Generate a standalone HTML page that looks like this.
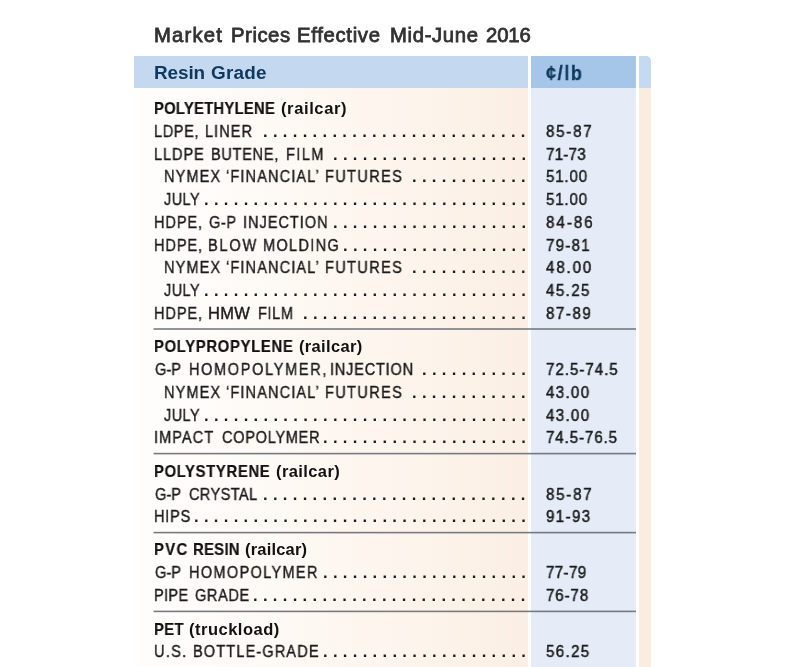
<!DOCTYPE html>
<html lang="en">
<head>
<meta charset="utf-8">
<title>Market Prices Effective Mid-June 2016</title>
<style>
html,body{margin:0;padding:0;background:#fff;}
body{width:800px;height:667px;overflow:hidden;position:relative;font-family:"Liberation Sans",Arial,sans-serif;}
#wrap{position:absolute;left:0;top:0;width:800px;height:667px;overflow:hidden;background:#fff;}
.bg{position:absolute;}
#h-left{left:134px;top:56px;width:394px;height:31.7px;background:#c4d9f0;}
#h-price{left:531px;top:56px;width:104.5px;height:31.7px;background:#a6c6e9;}
#h-strip{left:638.5px;top:56px;width:12.6px;height:31.7px;background:#c5daf0;border-top-right-radius:5px;}
#b-left{left:134px;top:88px;width:394px;height:579px;background:linear-gradient(to right,#fffefd 0%,#fefaf6 30%,#fdf5ed 66%,#fbefe4 100%);}
#b-price{left:531px;top:88px;width:104.5px;height:579px;background:#e5ecf8;}
#b-strip{left:638.5px;top:88px;width:12.6px;height:579px;background:#fbece1;}
.seps{position:absolute;left:0;top:0;}
.r{position:absolute;left:0;width:800px;height:20px;margin:0;}
.t{position:absolute;top:0;white-space:pre;line-height:20px;height:20px;font-size:16.5px;color:#1b1b1b;will-change:transform;transform-origin:0 0;}
.lb{transform:scaleX(0.88);-webkit-text-stroke:0.4px #1b1b1b;}
.pr{transform:scaleX(0.92);-webkit-text-stroke:0.5px #1b1b1b;}
.gh .t{font-weight:700;color:#111;}
.ghc{transform:scaleX(0.9);-webkit-text-stroke:0.2px #111;}
.dots{letter-spacing:5.333px;font-weight:700;}
#title{top:22px;height:26px;font-weight:400;font-size:20.3px;}
#title .t{font-size:20.3px;line-height:26px;height:26px;color:#323232;-webkit-text-stroke:0.8px #323232;}
#thead{top:61px;height:24px;}
#thead .t{font-size:18.9px;line-height:24px;height:24px;font-weight:700;color:#10385f;}
#thead .c{font-size:19.4px;transform:scaleX(0.93);-webkit-text-stroke:0.3px #10385f;}
</style>
</head>
<body>
<div id="wrap">
<div class="bg" id="h-left"></div><div class="bg" id="h-price"></div><div class="bg" id="h-strip"></div>
<div class="bg" id="b-left"></div><div class="bg" id="b-price"></div><div class="bg" id="b-strip"></div>
<svg class="seps" width="800" height="667" viewBox="0 0 800 667" aria-hidden="true"><rect x="153.5" y="328.20" width="482.5" height="1.6" fill="#777a81"/><rect x="153.5" y="452.80" width="482.5" height="1.6" fill="#777a81"/><rect x="153.5" y="531.80" width="482.5" height="1.6" fill="#777a81"/><rect x="153.5" y="610.60" width="482.5" height="1.6" fill="#777a81"/></svg>
<h1 class="r" id="title"><span class="t w" style="left:154.10px;letter-spacing:1.190px;">Market</span> <span class="t w" style="left:230.60px;letter-spacing:0.549px;">Prices</span> <span class="t w" style="left:297.35px;letter-spacing:0.696px;">Effective</span> <span class="t w" style="left:389.85px;letter-spacing:0.652px;">Mid-June</span> <span class="t w" style="left:485.60px;letter-spacing:-0.129px;">2016</span></h1>
<div class="r" id="thead"><span class="hl"><span class="t w" style="left:153.65px;letter-spacing:-0.088px;">Resin</span> <span class="t w" style="left:210.75px;letter-spacing:0.227px;">Grade</span></span><span class="t c" style="left:545.76px;letter-spacing:1.760px">¢/lb</span></div>
<div class="r gh" style="top:98px"><span class="t ghc" style="left:154.01px;letter-spacing:0.247px;">POLYETHYLENE</span> <span class="t ghp" style="left:281.00px;letter-spacing:0.621px;">(railcar)</span></div>
<div class="r" style="top:121px"><span class="lbl"><span class="t lb" style="left:154.44px;letter-spacing:0.732px;">LDPE,</span> <span class="t lb" style="left:204.94px;letter-spacing:1.190px;">LINER</span></span><span class="t dots" style="left:263.19px">...........................</span><span class="t pr" style="left:545.77px;letter-spacing:1.869px;">85-87</span></div>
<div class="r" style="top:144px"><span class="lbl"><span class="t lb" style="left:154.14px;letter-spacing:1.087px;">LLDPE</span> <span class="t lb" style="left:211.44px;letter-spacing:0.826px;">BUTENE,</span> <span class="t lb" style="left:286.44px;letter-spacing:1.651px;">FILM</span></span><span class="t dots" style="left:332.63px">....................</span><span class="t pr" style="left:545.77px;letter-spacing:0.239px;">71-73</span></div>
<div class="r" style="top:166px"><span class="lbl"><span class="t lb" style="left:163.94px;letter-spacing:1.249px;">NYMEX</span> <span class="t lb" style="left:225.94px;letter-spacing:1.292px;">‘FINANCIAL’</span> <span class="t lb" style="left:325.19px;letter-spacing:1.556px;">FUTURES</span></span><span class="t dots" style="left:411.99px">............</span><span class="t pr" style="left:545.77px;letter-spacing:0.847px;">51.00</span></div>
<div class="r" style="top:189px"><span class="lbl"><span class="t lb" style="left:163.82px;letter-spacing:0.464px;">JULY</span></span><span class="t dots" style="left:203.67px">.................................</span><span class="t pr" style="left:545.77px;letter-spacing:0.847px;">51.00</span></div>
<div class="r" style="top:212px"><span class="lbl"><span class="t lb" style="left:154.44px;letter-spacing:1.042px;">HDPE,</span> <span class="t lb" style="left:208.57px;letter-spacing:0.761px;">G-P</span> <span class="t lb" style="left:242.69px;letter-spacing:1.129px;">INJECTION</span></span><span class="t dots" style="left:332.63px">....................</span><span class="t pr" style="left:545.77px;letter-spacing:2.141px;">84-86</span></div>
<div class="r" style="top:235px"><span class="lbl"><span class="t lb" style="left:154.44px;letter-spacing:1.042px;">HDPE,</span> <span class="t lb" style="left:208.44px;letter-spacing:2.043px;">BLOW</span> <span class="t lb" style="left:263.19px;letter-spacing:1.515px;">MOLDING</span></span><span class="t dots" style="left:342.55px">...................</span><span class="t pr" style="left:545.77px;letter-spacing:1.325px;">79-81</span></div>
<div class="r" style="top:257px"><span class="lbl"><span class="t lb" style="left:163.94px;letter-spacing:1.249px;">NYMEX</span> <span class="t lb" style="left:225.94px;letter-spacing:1.292px;">‘FINANCIAL’</span> <span class="t lb" style="left:325.19px;letter-spacing:1.556px;">FUTURES</span></span><span class="t dots" style="left:411.99px">............</span><span class="t pr" style="left:545.77px;letter-spacing:1.988px;">48.00</span></div>
<div class="r" style="top:280px"><span class="lbl"><span class="t lb" style="left:163.82px;letter-spacing:0.464px;">JULY</span></span><span class="t dots" style="left:203.67px">.................................</span><span class="t pr" style="left:545.77px;letter-spacing:1.499px;">45.25</span></div>
<div class="r" style="top:303px"><span class="lbl"><span class="t lb" style="left:154.44px;letter-spacing:1.042px;">HDPE,</span> <span class="t lb" style="left:208.30px;transform:scaleX(1.0);letter-spacing:0.345px;">HMW</span> <span class="t lb" style="left:257.69px;letter-spacing:0.704px;">FILM</span></span><span class="t dots" style="left:302.87px">.......................</span><span class="t pr" style="left:545.77px;letter-spacing:1.597px;">87-89</span></div>
<div class="r gh" style="top:336px"><span class="t ghc" style="left:154.01px;letter-spacing:0.747px;">POLYPROPYLENE</span> <span class="t ghp" style="left:298.50px;letter-spacing:0.339px;">(railcar)</span></div>
<div class="r" style="top:359px"><span class="lbl"><span class="t lb" style="left:154.82px;letter-spacing:0.050px;">G-P</span> <span class="t lb" style="left:188.94px;letter-spacing:1.876px;">HOMOPOLYMER,</span> <span class="t lb" style="left:330.19px;letter-spacing:0.916px;">INJECTION</span></span><span class="t dots" style="left:421.91px">...........</span><span class="t pr" style="left:545.77px;letter-spacing:1.027px;">72.5-74.5</span></div>
<div class="r" style="top:382px"><span class="lbl"><span class="t lb" style="left:163.94px;letter-spacing:1.249px;">NYMEX</span> <span class="t lb" style="left:225.94px;letter-spacing:1.292px;">‘FINANCIAL’</span> <span class="t lb" style="left:325.19px;letter-spacing:1.556px;">FUTURES</span></span><span class="t dots" style="left:411.99px">............</span><span class="t pr" style="left:545.77px;letter-spacing:1.390px;">43.00</span></div>
<div class="r" style="top:405px"><span class="lbl"><span class="t lb" style="left:163.82px;letter-spacing:0.464px;">JULY</span></span><span class="t dots" style="left:203.67px">.................................</span><span class="t pr" style="left:545.77px;letter-spacing:1.390px;">43.00</span></div>
<div class="r" style="top:427px"><span class="lbl"><span class="t lb" style="left:154.14px;letter-spacing:1.221px;">IMPACT</span> <span class="t lb" style="left:221.82px;letter-spacing:0.833px;">COPOLYMER</span></span><span class="t dots" style="left:322.71px">.....................</span><span class="t pr" style="left:545.77px;letter-spacing:0.945px;">74.5-76.5</span></div>
<div class="r gh" style="top:461px"><span class="t ghc" style="left:154.01px;letter-spacing:0.724px;">POLYSTYRENE</span> <span class="t ghp" style="left:275.50px;letter-spacing:0.402px;">(railcar)</span></div>
<div class="r" style="top:484px"><span class="lbl"><span class="t lb" style="left:154.82px;letter-spacing:0.050px;">G-P</span> <span class="t lb" style="left:189.07px;letter-spacing:0.459px;">CRYSTAL</span></span><span class="t dots" style="left:263.19px">...........................</span><span class="t pr" style="left:545.77px;letter-spacing:1.869px;">85-87</span></div>
<div class="r" style="top:506px"><span class="lbl"><span class="t lb" style="left:154.44px;letter-spacing:0.907px;">HIPS</span></span><span class="t dots" style="left:193.75px">..................................</span><span class="t pr" style="left:545.77px;letter-spacing:1.434px;">91-93</span></div>
<div class="r gh" style="top:539px"><span class="t ghc" style="left:154.01px;letter-spacing:1.450px;">PVC</span> <span class="t ghc" style="left:192.76px;letter-spacing:0.322px;">RESIN</span> <span class="t ghp" style="left:244.75px;letter-spacing:0.183px;">(railcar)</span></div>
<div class="r" style="top:562px"><span class="lbl"><span class="t lb" style="left:154.82px;letter-spacing:0.050px;">G-P</span> <span class="t lb" style="left:188.94px;letter-spacing:1.518px;">HOMOPOLYMER</span></span><span class="t dots" style="left:322.71px">.....................</span><span class="t pr" style="left:545.77px;letter-spacing:0.374px;">77-79</span></div>
<div class="r" style="top:585px"><span class="lbl"><span class="t lb" style="left:154.14px;letter-spacing:0.377px;">PIPE</span> <span class="t lb" style="left:195.32px;letter-spacing:0.715px;">GRADE</span></span><span class="t dots" style="left:253.27px">............................</span><span class="t pr" style="left:545.77px;letter-spacing:0.918px;">76-78</span></div>
<div class="r gh" style="top:619px"><span class="t ghc" style="left:154.01px;letter-spacing:0.367px;">PET</span> <span class="t ghp" style="left:188.50px;letter-spacing:0.499px;">(truckload)</span></div>
<div class="r" style="top:641px"><span class="lbl"><span class="t lb" style="left:153.94px;letter-spacing:1.535px;">U.S.</span> <span class="t lb" style="left:192.69px;letter-spacing:1.300px;">BOTTLE-GRADE</span></span><span class="t dots" style="left:322.71px">.....................</span><span class="t pr" style="left:545.77px;letter-spacing:1.417px;">56.25</span></div>
</div>
</body>
</html>
